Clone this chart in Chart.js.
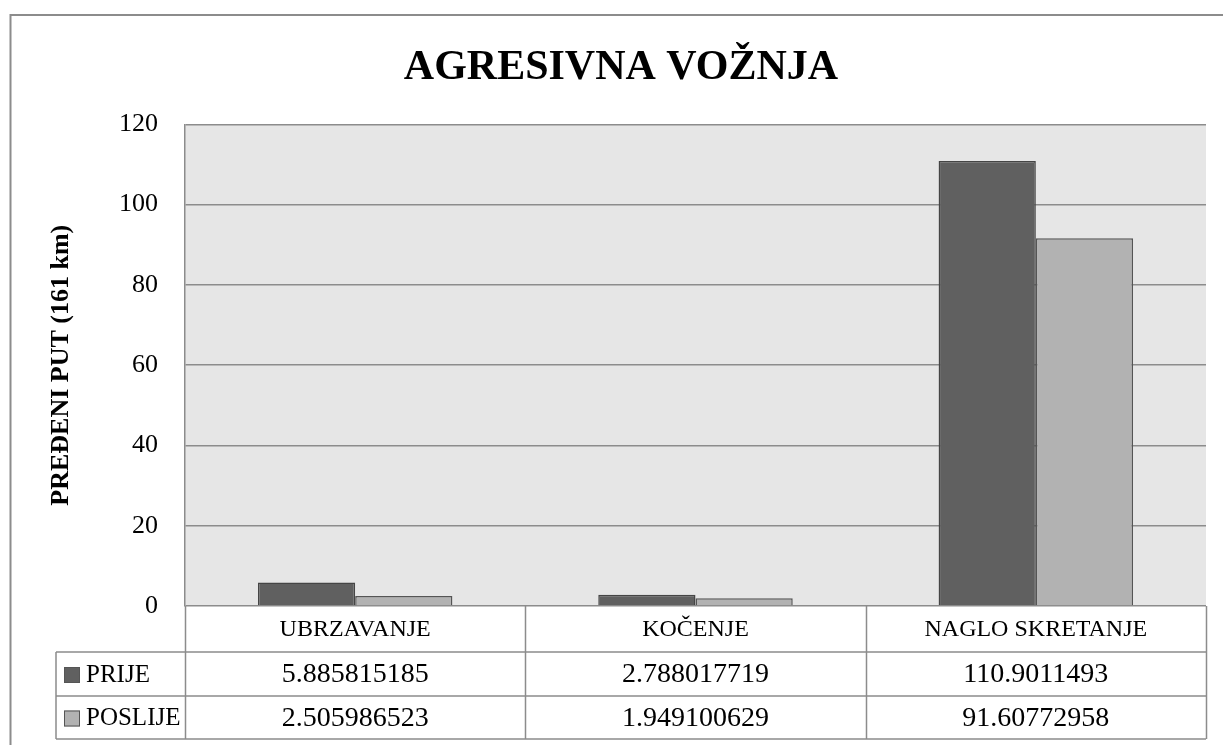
<!DOCTYPE html>
<html>
<head>
<meta charset="utf-8">
<title>AGRESIVNA VOŽNJA</title>
<script src="https://cdn.jsdelivr.net/npm/chart.js@4/dist/chart.umd.min.js"></script>
<style>
  html, body { margin: 0; padding: 0; background: #fff; }
  canvas { display: block; }
</style>
</head>
<body>
<canvas id="chart" width="1223" height="745"></canvas>
<script>
const categories = ['UBRZAVANJE', 'KOČENJE', 'NAGLO SKRETANJE'];
const seriesNames = ['PRIJE', 'POSLIJE'];
const prije = [5.885815185, 2.788017719, 110.9011493];
const poslije = [2.505986523, 1.949100629, 91.60772958];
const seriesColors = ['#606060', '#b2b2b2'];

const FONT = "'Liberation Serif', 'DejaVu Serif', serif";
const LINE = '#8c8c8c';
const rowHeights = [46, 44, 43];
const legendLeft = 56;

// grey plot background + outer frame
const backdrop = {
  id: 'backdrop',
  beforeDraw(chart) {
    const { ctx, chartArea: a } = chart;
    ctx.save();
    ctx.strokeStyle = LINE;
    ctx.lineWidth = 2;
    ctx.strokeRect(10.5, 15, 1400, 900);
    ctx.fillStyle = '#e6e6e6';
    ctx.fillRect(a.left, a.top, a.right - a.left, a.bottom - a.top);
    ctx.restore();
  }
};

// data table under the plot
const dataTable = {
  id: 'dataTable',
  afterDraw(chart) {
    const { ctx, chartArea: a } = chart;
    const x = chart.scales.x;
    const n = categories.length;
    const top = a.bottom;
    const y1 = top + rowHeights[0];
    const y2 = y1 + rowHeights[1];
    const y3 = y2 + rowHeights[2];

    ctx.save();
    ctx.strokeStyle = LINE;
    ctx.lineWidth = 1.5;
    ctx.beginPath();
    for (let i = 0; i <= n; i++) {
      const px = Math.round(x.getPixelForValue(i - 0.5)) + 0.5;
      ctx.moveTo(px, top);
      ctx.lineTo(px, y3);
    }
    ctx.moveTo(legendLeft, y1);
    ctx.lineTo(legendLeft, y3);
    [y1, y2, y3].forEach(y => {
      ctx.moveTo(legendLeft, y);
      ctx.lineTo(a.right, y);
    });
    ctx.stroke();

    ctx.fillStyle = '#000';
    ctx.textAlign = 'center';
    ctx.textBaseline = 'middle';
    ctx.font = '24px ' + FONT;
    categories.forEach((c, i) => {
      ctx.fillText(c, x.getPixelForValue(i), (top + y1) / 2 + 1);
    });

    const rows = [[prije, y1, y2], [poslije, y2, y3]];
    rows.forEach(([vals, ya, yb], r) => {
      const cy = (ya + yb) / 2 + 1;
      ctx.font = '28px ' + FONT;
      vals.forEach((v, i) => {
        ctx.textAlign = 'center';
        ctx.fillText(String(v), x.getPixelForValue(i), cy);
      });
      // legend key
      ctx.fillStyle = seriesColors[r];
      ctx.fillRect(legendLeft + 8, cy - 8, 16, 16);
      ctx.strokeStyle = '#555';
      ctx.lineWidth = 1;
      ctx.strokeRect(legendLeft + 8.5, cy - 7.5, 15, 15);
      ctx.fillStyle = '#000';
      ctx.textAlign = 'left';
      ctx.font = '25px ' + FONT;
      ctx.fillText(seriesNames[r], legendLeft + 30, cy);
    });
    ctx.restore();
  }
};

new Chart(document.getElementById('chart'), {
  type: 'bar',
  data: {
    labels: categories,
    datasets: [
      {
        label: seriesNames[0],
        data: prije,
        backgroundColor: seriesColors[0],
        borderColor: '#454545',
        borderWidth: 1.5
      },
      {
        label: seriesNames[1],
        data: poslije,
        backgroundColor: seriesColors[1],
        borderColor: '#555555',
        borderWidth: 1.5
      }
    ]
  },
  options: {
    responsive: false,
    animation: false,
    categoryPercentage: 2 / 3.5,
    barPercentage: 1,
    layout: { padding: { left: 36, right: 17, top: 0, bottom: 0 } },
    plugins: {
      legend: { display: false },
      tooltip: { enabled: false },
      title: {
        display: true,
        text: 'AGRESIVNA VOŽNJA',
        color: '#000',
        font: { family: FONT, size: 42, weight: 'bold' },
        padding: { top: 43, bottom: 31 }
      }
    },
    scales: {
      x: {
        ticks: { display: false },
        grid: { display: false },
        border: { display: false },
        afterFit(scale) { scale.height = 139; }
      },
      y: {
        min: 0,
        max: 120,
        ticks: {
          stepSize: 20,
          color: '#000',
          padding: 27,
          font: { family: FONT, size: 26 }
        },
        grid: { color: LINE, lineWidth: 1.5, drawTicks: false },
        border: { color: LINE, width: 1.5 },
        title: {
          display: true,
          text: 'PREĐENI PUT (161 km)',
          color: '#000',
          font: { family: FONT, size: 26, weight: 'bold' },
          padding: { top: 10, bottom: 0 }
        },
        afterFit(scale) { scale.width = 149; }
      }
    }
  },
  plugins: [backdrop, dataTable]
});
</script>
</body>
</html>
